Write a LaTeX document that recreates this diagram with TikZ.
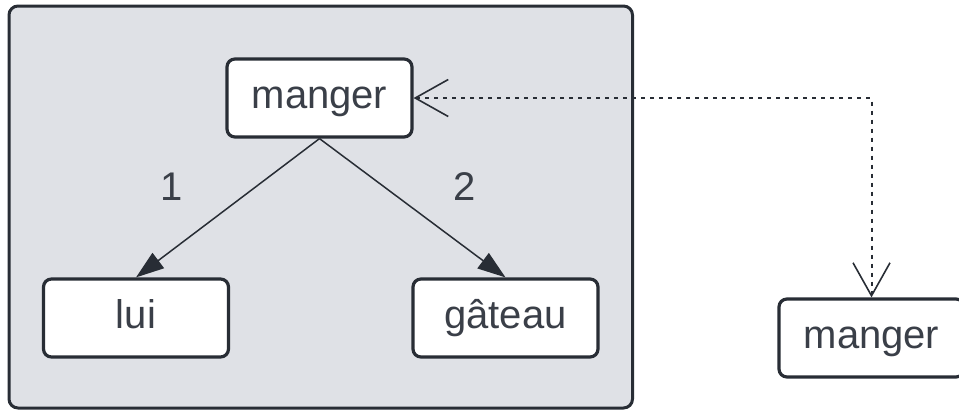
\documentclass[tikz,border=0pt]{standalone}
\usepackage{fontspec}
\setmainfont{Liberation Sans}
\usetikzlibrary{arrows.meta}
\definecolor{edgeink}{RGB}{40,45,53}
\definecolor{textink}{RGB}{58,63,72}
\definecolor{panelgray}{RGB}{223,225,230}
\tikzset{
  x=1pt, y=-1pt,
  wordbox/.style={draw=edgeink, line width=3.2pt, fill=white, rounded corners=8pt,
    minimum width=185pt, minimum height=78pt, inner sep=0pt,
    text height=30pt, text depth=10pt,
    text=textink, font=\fontsize{40}{48}\selectfont},
  deplink/.style={draw=edgeink, line width=1.5pt,
    -{Triangle[length=28pt,width=19pt]}},
  corefer/.style={draw=edgeink, line width=2pt, dash pattern=on 4pt off 5pt,
    {Straight Barb[length=33pt,width=37pt,line width=1.6pt]}-{Straight Barb[length=33pt,width=37pt,line width=1.6pt]}},
  numlabel/.style={text=textink, font=\fontsize{40}{48}\selectfont, inner sep=0pt}
}
\begin{document}
\begin{tikzpicture}
  \useasboundingbox (0,0) rectangle (959,410);
  % grey panel holding the first tree
  \draw[edgeink, line width=3pt, fill=panelgray, rounded corners=9pt]
    (9,6) rectangle (632.5,408);
  % words
  \node[wordbox] (head) at (319.5,98) {manger};
  \node[wordbox] (obj1) at (136,318) {lui};
  \node[wordbox] (obj2) at (505.5,318) {gâteau};
  \node[wordbox] (head2) at (871.5,338) {manger};
  % dependency arcs
  \draw[deplink] (head.south) -- (obj1.north);
  \draw[deplink] (head.south) -- (obj2.north);
  \node[numlabel] (lab1) at (172,187) {1};
  \node[numlabel] (lab2) at (465,187) {2};
  % link between the two occurrences
  \draw[corefer] (head.east) -| (head2.north);
\end{tikzpicture}
\end{document}
